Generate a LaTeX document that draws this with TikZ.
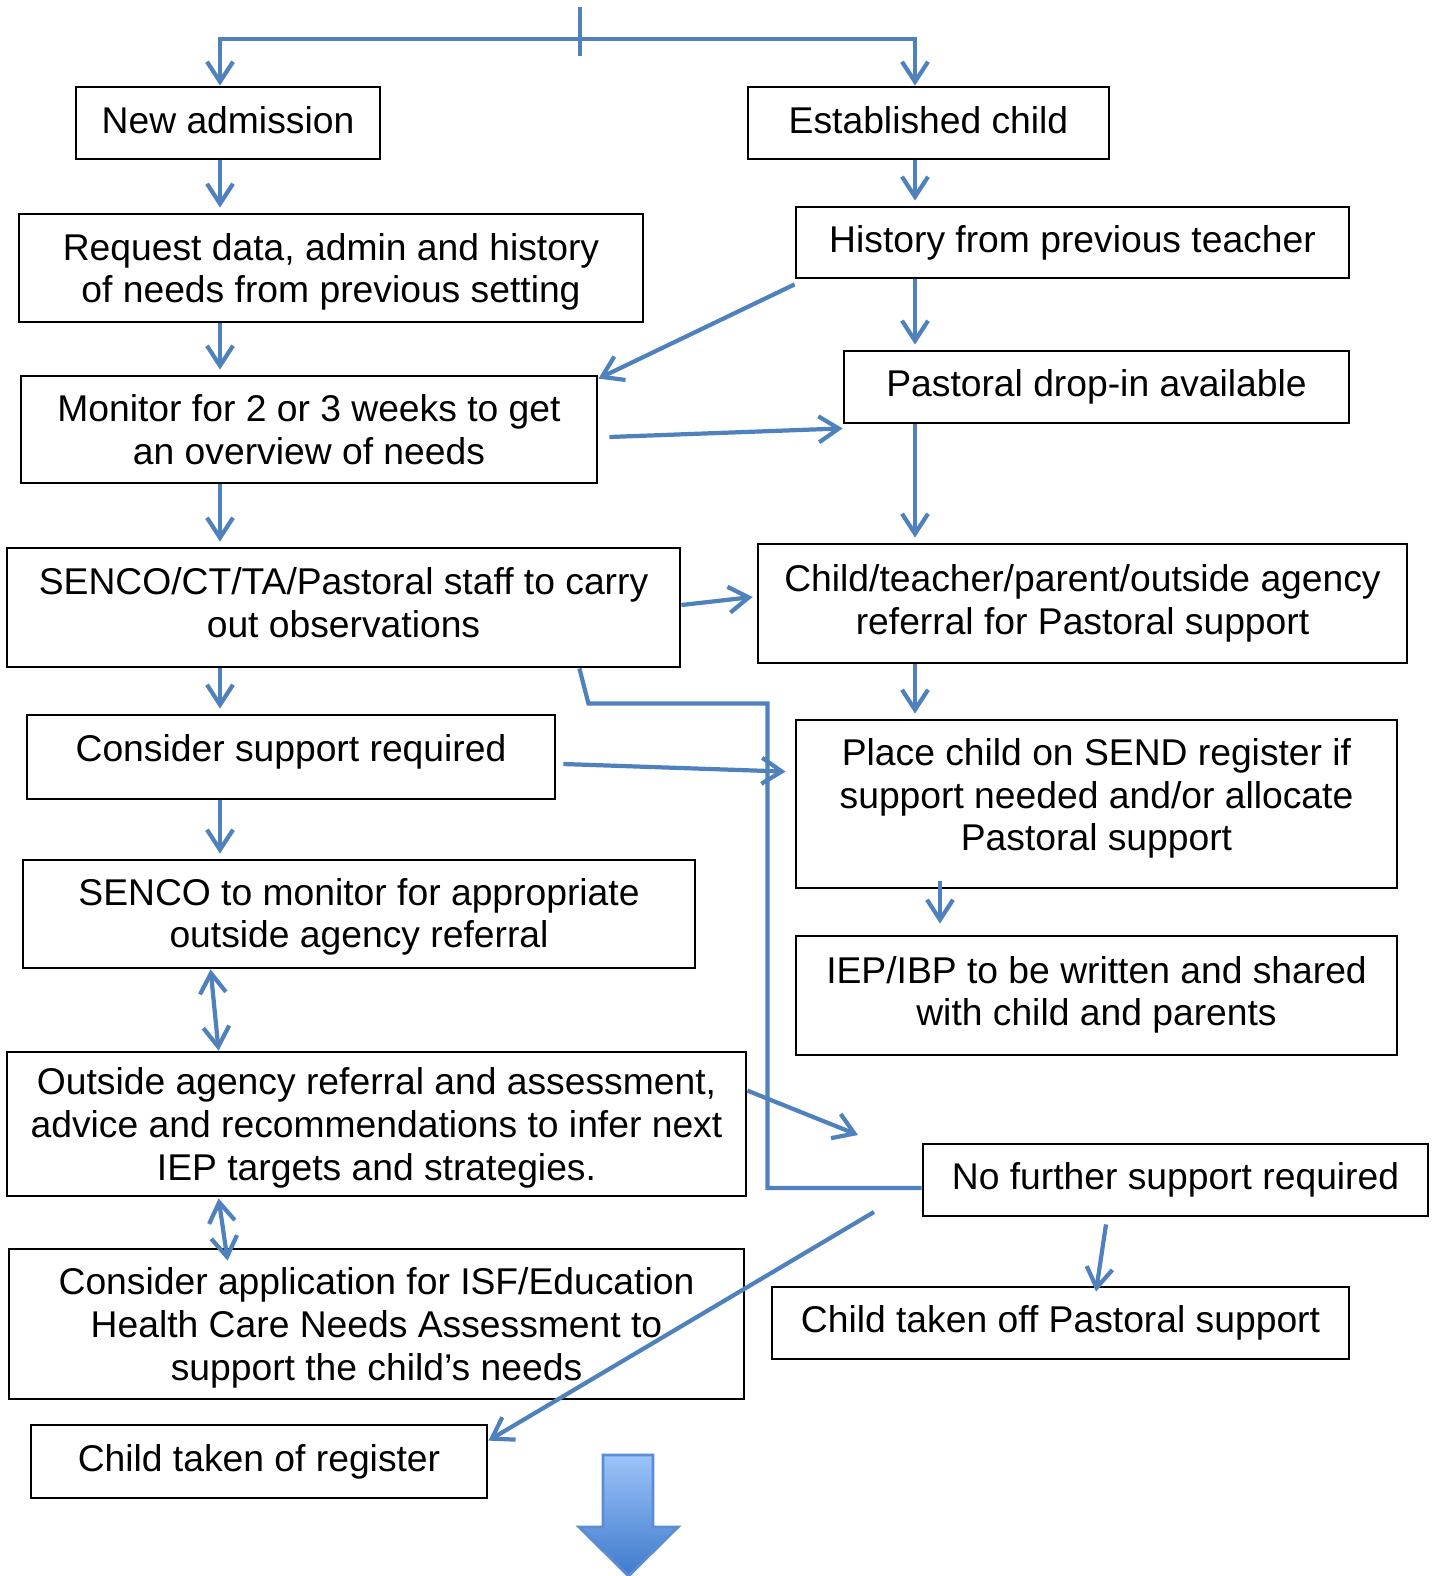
\documentclass[tikz,border=0pt]{standalone}
\usepackage{fontspec}
\setmainfont{Liberation Sans}
\usetikzlibrary{arrows.meta}
\definecolor{lineblue}{RGB}{79,129,189}
\definecolor{bigtop}{RGB}{157,195,250}
\definecolor{bigbot}{RGB}{62,122,204}
\definecolor{bigedge}{RGB}{92,140,210}

\begin{document}
\begin{tikzpicture}[
      mybox/.style={
         draw,
         line width=0.8pt,
         align=center,
         inner sep=0pt,
         font=\fontsize{10.6}{12.2}\selectfont},
      myline/.style={draw=lineblue, line width=1.2pt},
      myarrow/.style={myline, -{Straight Barb[length=0.2cm,width=0.26cm]}},
      mydouble/.style={myline, {Straight Barb[length=0.2cm,width=0.26cm]}-{Straight Barb[length=0.2cm,width=0.26cm]}}
      ]
      \useasboundingbox (0,0) rectangle (14.37,-15.76);

      % left column
      \node[mybox, minimum width=3.04cm, minimum height=0.72cm, text depth=0.06cm] (newadm) at (2.28,-1.23) {New admission};
      \node[mybox, minimum width=6.24cm, minimum height=1.08cm, text depth=0cm] (request) at (3.31,-2.68) {Request data, admin and history\\ of needs from previous setting};
      \node[mybox, minimum width=5.76cm, minimum height=1.07cm] (monitor) at (3.09,-4.295) {Monitor for 2 or 3 weeks to get\\ an overview of needs};
      \node[mybox, minimum width=6.73cm, minimum height=1.19cm, text depth=0.10cm] (observe) at (3.435,-6.075) {SENCO/CT/TA/Pastoral staff to carry\\ out observations};
      \node[mybox, minimum width=5.28cm, minimum height=0.84cm, text depth=0.18cm] (consider) at (2.91,-7.57) {Consider support required};
      \node[mybox, minimum width=6.72cm, minimum height=1.08cm, text depth=0.02cm] (sencomon) at (3.59,-9.14) {SENCO to monitor for appropriate\\ outside agency referral};
      \node[mybox, minimum width=7.39cm, minimum height=1.44cm, text depth=-0.08cm] (agency) at (3.765,-11.24) {Outside agency referral and assessment,\\ advice and recommendations to infer next\\ IEP targets and strategies.};
      \node[mybox, minimum width=7.35cm, minimum height=1.50cm, text depth=-0.04cm] (isf) at (3.765,-13.24) {Consider application for ISF/Education\\ Health Care Needs Assessment to\\ support the child’s needs};
      \node[mybox, minimum width=4.56cm, minimum height=0.73cm] (offreg) at (2.59,-14.615) {Child taken of register};

      % right column
      \node[mybox, minimum width=3.61cm, minimum height=0.72cm, text depth=0.06cm] (estab) at (9.285,-1.23) {Established child};
      \node[mybox, minimum width=5.53cm, minimum height=0.71cm] (history) at (10.725,-2.425) {History from previous teacher};
      \node[mybox, minimum width=5.05cm, minimum height=0.72cm] (dropin) at (10.965,-3.87) {Pastoral drop-in available};
      \node[mybox, minimum width=6.49cm, minimum height=1.19cm] (referral) at (10.825,-6.035) {Child/teacher/parent/outside agency\\ referral for Pastoral support};
      \node[mybox, minimum width=6.01cm, minimum height=1.68cm, text depth=0.19cm] (register) at (10.965,-8.04) {Place child on SEND register if\\ support needed and/or allocate\\ Pastoral support};
      \node[mybox, minimum width=6.01cm, minimum height=1.19cm, text depth=0.09cm] (iep) at (10.965,-9.955) {IEP/IBP to be written and shared\\ with child and parents};
      \node[mybox, minimum width=5.05cm, minimum height=0.72cm] (nofurther) at (11.755,-11.80) {No further support required};
      \node[mybox, minimum width=5.77cm, minimum height=0.72cm] (offpast) at (10.605,-13.23) {Child taken off Pastoral support};

      \coordinate (lcol) at (2.20,0);
      \coordinate (rcol) at (9.15,0);
      \coordinate (icol) at (9.40,0);
      \coordinate (top) at (5.80,-0.07);
      \coordinate (split) at (5.80,-0.39);
      \coordinate (stub) at (5.80,-0.56);
      \coordinate (gap) at (8.58,-11.35);
      \coordinate (cut) at (8.74,-12.12);

      % split at the top
      \draw [myline] (top) -- (stub);
      \draw [myarrow] (split) -| (newadm.north -| lcol);
      \draw [myarrow] (split) -| (estab.north -| rcol);

    \foreach \i/\j in {% upper box/lower box
      newadm/request,
      request/monitor,
      monitor/observe,
      observe/consider,
      consider/sencomon}
       \draw [myarrow, shorten >=0.05cm] (\i.south -| lcol) -- (\j.north -| lcol);

    \foreach \i/\j in {
      estab/history,
      history/dropin,
      dropin/referral,
      referral/register}
       \draw [myarrow, shorten >=0.05cm] (\i.south -| rcol) -- (\j.north -| rcol);

      \draw [myarrow] ([yshift=0.08cm]register.south -| icol) -- ([yshift=0.11cm]iep.north -| icol);

      % cross links
      \draw [myarrow] ([yshift=-0.05cm]history.south west) -- ([yshift=-0.04cm]monitor.north east);
      \draw [myarrow] ([xshift=0.11cm,yshift=-0.075cm]monitor.east) -- ([yshift=-0.04cm]dropin.south west);
      \draw [myarrow] ([yshift=0.025cm]observe.east) -- ([xshift=-0.04cm,yshift=0.065cm]referral.west);
      \draw [myarrow] ([xshift=0.07cm,yshift=-0.07cm]consider.east) -- ([xshift=-0.09cm,yshift=-0.53cm]register.north west);
      \draw [myline] ([xshift=-1.02cm]observe.south east) -- ++(0.09,-0.35)
         -| ([xshift=-1.54cm,yshift=-0.08cm]nofurther.west) -- ([yshift=-0.08cm]nofurther.west);

      \draw [mydouble] ([xshift=1.89cm]sencomon.south west) -- ([xshift=2.13cm]agency.north west);
      \draw [mydouble] ([xshift=2.13cm,yshift=-0.01cm]agency.south west) -- ([xshift=2.20cm,yshift=-0.13cm]isf.north west);

      \draw [myarrow] ([yshift=-0.4cm]agency.north east) -- (gap);
      \draw [myarrow] (cut) -- ([yshift=-0.17cm]offreg.north east);
      \draw [myarrow] ([xshift=-0.695cm,yshift=-0.07cm]nofurther.south) -- ([xshift=0.355cm,yshift=-0.06cm]offpast.north);

      % big arrow at the bottom
      \shade [top color=bigtop, bottom color=bigbot, draw=bigedge, line width=0.8pt]
         (6.03,-14.55) -- (6.53,-14.55) -- (6.53,-15.27) -- (6.78,-15.27) -- (6.285,-15.76)
         -- (5.79,-15.27) -- (6.03,-15.27) -- cycle;
\end{tikzpicture}
\end{document}
